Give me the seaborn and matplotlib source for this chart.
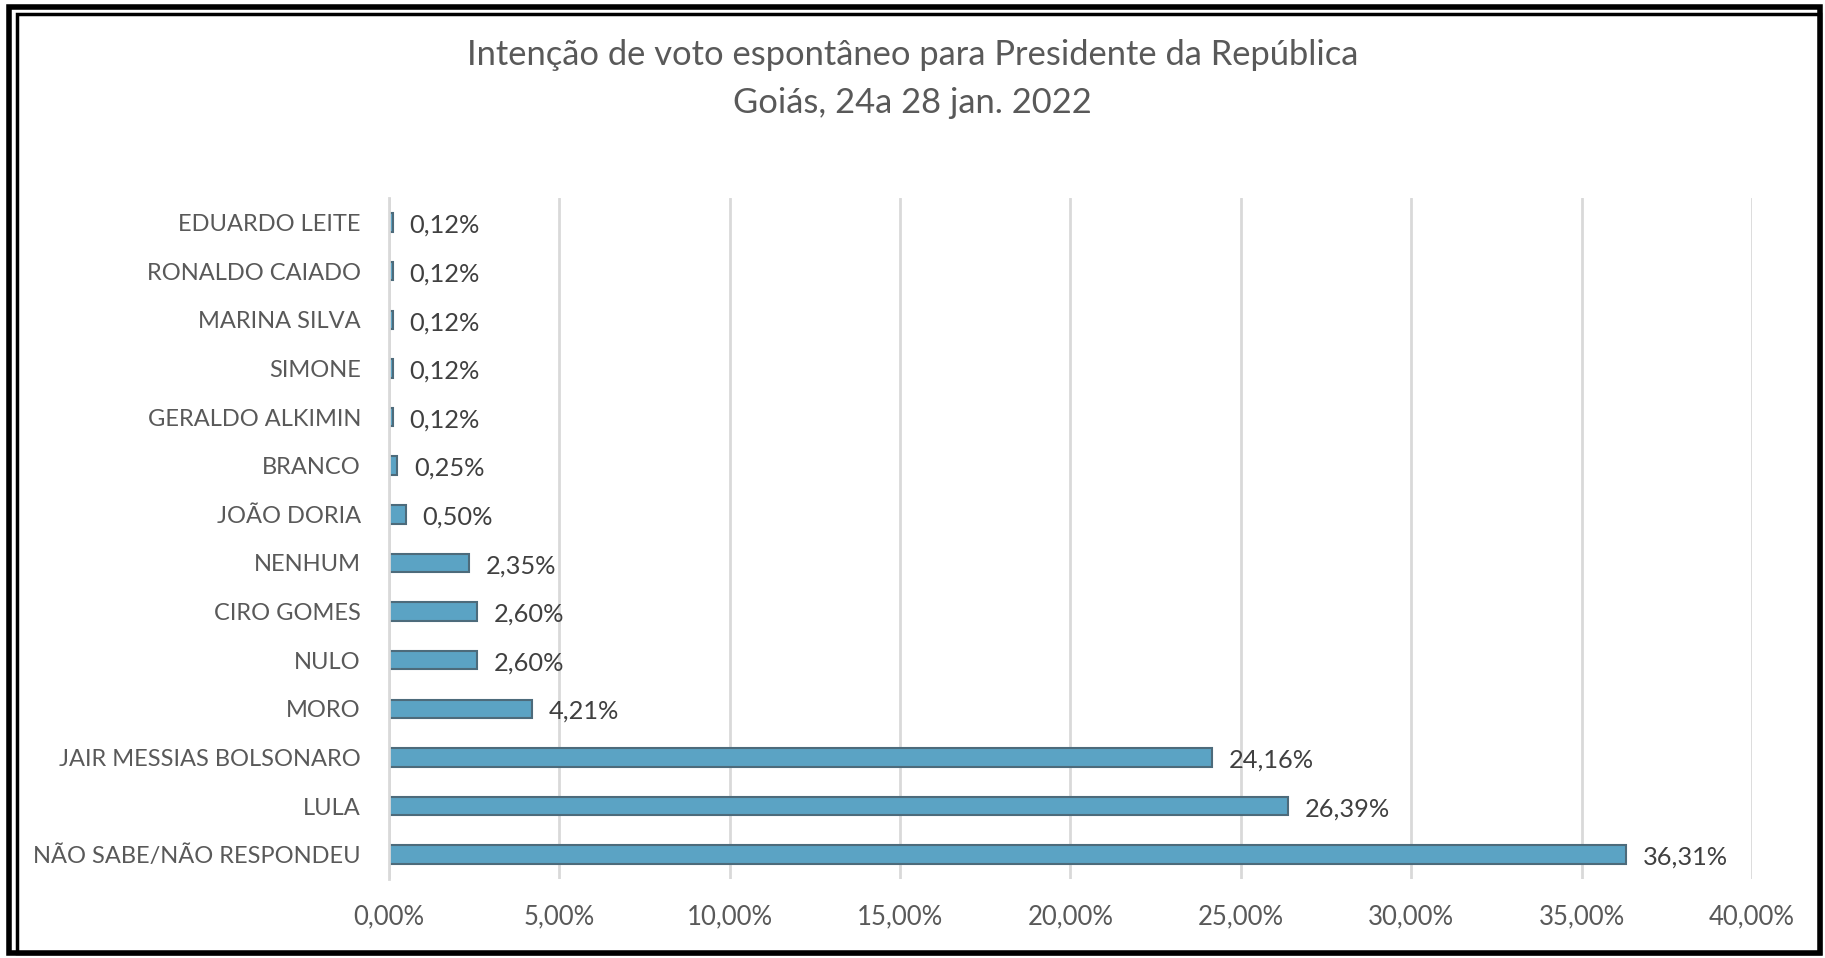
import matplotlib
matplotlib.use('Agg')
import matplotlib.pyplot as plt
import matplotlib.patches as patches
from matplotlib.ticker import FuncFormatter
import seaborn as sns
import pandas as pd

# Dados (de cima para baixo)
candidatos = ['EDUARDO LEITE', 'RONALDO CAIADO', 'MARINA SILVA', 'SIMONE',
              'GERALDO ALKIMIN', 'BRANCO', 'JOÃO DORIA', 'NENHUM', 'CIRO GOMES',
              'NULO', 'MORO', 'JAIR MESSIAS BOLSONARO', 'LULA',
              'NÃO SABE/NÃO RESPONDEU']
percentuais = [0.12, 0.12, 0.12, 0.12, 0.12, 0.25, 0.50, 2.35, 2.60, 2.60,
               4.21, 24.16, 26.39, 36.31]
xticks = [0, 5, 10, 15, 20, 25, 30, 35, 40]

df = pd.DataFrame({'candidato': candidatos, 'pct': percentuais})

sns.set_style('white')
plt.rcParams['font.family'] = ['Lato', 'DejaVu Sans']

fig = plt.figure(figsize=(18.25, 9.58), dpi=100)
ax = fig.add_axes([0.213, 0.0825, 0.747, 0.7105])

sns.barplot(data=df, x='pct', y='candidato', orient='h', color='#5BA3C4',
            edgecolor='#4D6B7B', linewidth=1.5, width=0.38, saturation=1, ax=ax)

ax.set_xlim(0, 40)
ax.set_xticks(xticks)
ax.xaxis.set_major_formatter(FuncFormatter(lambda v, p: f'{v:.2f}%'.replace('.', ',')))
ax.grid(axis='x', color='#D9D9D9', linewidth=2)
ax.set_axisbelow(True)
for s in ['top', 'right', 'bottom']:
    ax.spines[s].set_visible(False)
ax.spines['left'].set_color('#D9D9D9')
ax.spines['left'].set_linewidth(2)
ax.set_xlabel('')
ax.set_ylabel('')
ax.tick_params(axis='y', length=0, labelsize=17, labelcolor='#595959', pad=20)
ax.tick_params(axis='x', length=0, labelsize=18.5, labelcolor='#595959', pad=18)

# Rótulos de dados
for i, v in enumerate(percentuais):
    ax.annotate(f'{v:.2f}%'.replace('.', ','), xy=(v, i), xytext=(12, -2),
                textcoords='offset points', va='center', ha='left',
                fontsize=18.3, color='#404040')

fig.text(0.5, 0.943, 'Intenção de voto espontâneo para Presidente da República',
         ha='center', va='center', fontsize=24.8, color='#595959')
fig.text(0.5, 0.893, 'Goiás, 24a 28 jan. 2022',
         ha='center', va='center', fontsize=24.8, color='#595959')

# Borda dupla
fig.patches.append(patches.Rectangle((0.0049, 0.0052), 0.9925, 0.9875, transform=fig.transFigure,
                                     fill=False, edgecolor='black', linewidth=4))
fig.patches.append(patches.Rectangle((0.0093, 0.0052), 0.9881, 0.9805, transform=fig.transFigure,
                                     fill=False, edgecolor='black', linewidth=2.5))

fig.savefig('out.png', dpi=100)
